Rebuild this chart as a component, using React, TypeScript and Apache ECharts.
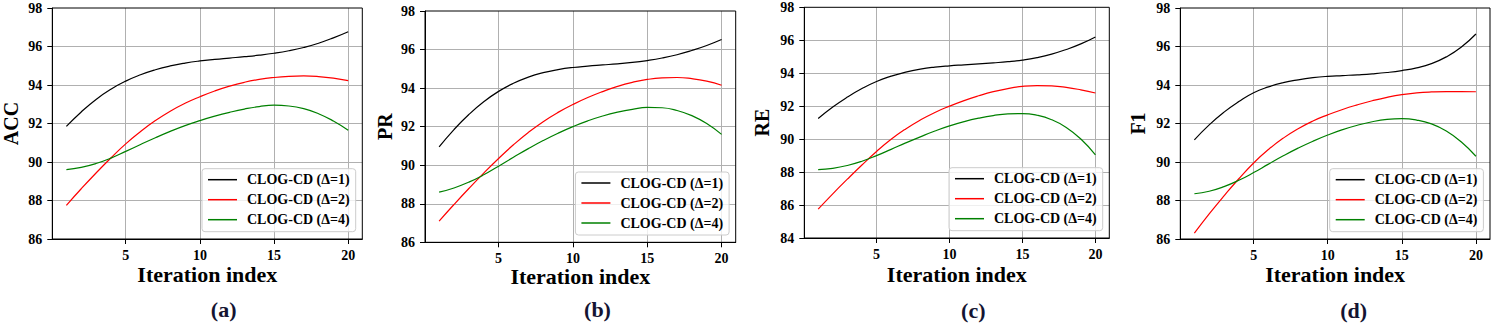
import React, { useEffect, useRef } from "react";
import * as echarts from "echarts";

const iterations = [1, 2, 3, 4, 5, 6, 7, 8, 9, 10, 11, 12, 13, 14, 15, 16, 17, 18, 19, 20];
const seriesNames = ["CLOG-CD (Δ=1)", "CLOG-CD (Δ=2)", "CLOG-CD (Δ=4)"];
const seriesColors = ["#000000", "#ff0000", "#008000"];
const metricNames = ["ACC", "PR", "RE", "F1"];
const panelLabels = ["(a)", "(b)", "(c)", "(d)"];
const xTickValues = [5, 10, 15, 20];
const yMins = [86, 86, 84, 86];
const yMax = 98;

const accD1 = [91.85, 92.6, 93.25, 93.78, 94.2, 94.53, 94.79, 94.99, 95.14, 95.25, 95.33, 95.4, 95.47, 95.55, 95.65, 95.78, 95.95, 96.17, 96.45, 96.77];
const accD2 = [87.75, 88.61, 89.43, 90.21, 90.94, 91.58, 92.15, 92.64, 93.05, 93.39, 93.69, 93.94, 94.14, 94.29, 94.39, 94.45, 94.47, 94.44, 94.36, 94.23];
const accD4 = [89.6, 89.72, 89.92, 90.2, 90.55, 90.91, 91.26, 91.59, 91.89, 92.15, 92.38, 92.58, 92.75, 92.88, 92.95, 92.91, 92.77, 92.51, 92.13, 91.65];

const prD1 = [90.95, 91.85, 92.63, 93.29, 93.83, 94.25, 94.57, 94.8, 94.96, 95.07, 95.14, 95.2, 95.26, 95.33, 95.43, 95.56, 95.73, 95.95, 96.21, 96.52];
const prD2 = [87.1, 87.96, 88.79, 89.59, 90.35, 91.06, 91.7, 92.26, 92.74, 93.15, 93.51, 93.82, 94.09, 94.3, 94.45, 94.53, 94.55, 94.49, 94.36, 94.15];
const prD4 = [88.6, 88.82, 89.12, 89.5, 89.95, 90.41, 90.86, 91.28, 91.66, 92.0, 92.3, 92.55, 92.75, 92.9, 93.0, 92.98, 92.84, 92.57, 92.16, 91.6];

const reD1 = [91.25, 91.95, 92.55, 93.07, 93.5, 93.82, 94.07, 94.25, 94.37, 94.45, 94.51, 94.57, 94.63, 94.7, 94.8, 94.95, 95.16, 95.44, 95.78, 96.2];
const reD2 = [85.75, 86.68, 87.57, 88.43, 89.25, 89.99, 90.62, 91.16, 91.62, 92.0, 92.34, 92.63, 92.88, 93.07, 93.2, 93.25, 93.23, 93.14, 92.99, 92.8];
const reD4 = [88.15, 88.23, 88.4, 88.66, 89.0, 89.38, 89.77, 90.14, 90.49, 90.8, 91.06, 91.27, 91.43, 91.53, 91.55, 91.45, 91.18, 90.71, 90.01, 89.05];

const f1D1 = [91.15, 91.93, 92.59, 93.14, 93.6, 93.9, 94.12, 94.27, 94.38, 94.45, 94.49, 94.53, 94.58, 94.65, 94.75, 94.89, 95.11, 95.46, 95.96, 96.65];
const f1D2 = [86.3, 87.3, 88.24, 89.13, 89.95, 90.65, 91.24, 91.73, 92.13, 92.45, 92.73, 92.97, 93.18, 93.36, 93.5, 93.59, 93.64, 93.66, 93.66, 93.65];
const f1D4 = [88.35, 88.48, 88.72, 89.05, 89.45, 89.89, 90.32, 90.72, 91.08, 91.4, 91.68, 91.91, 92.09, 92.21, 92.25, 92.18, 91.98, 91.61, 91.05, 90.3];

const panelData = [
  [accD1, accD2, accD4],
  [prD1, prD2, prD4],
  [reD1, reD2, reD4],
  [f1D1, f1D2, f1D4],
];

const W = 1497;
const H = 327;
const FONT = '"Liberation Serif", "Times New Roman", serif';

// plot-area rectangles (pixels)
const boxes = [
  { l: 52.3, t: 8, r: 362.3, b: 239 },
  { l: 425, t: 11, r: 735.7, b: 242.3 },
  { l: 804.3, t: 7.3, r: 1109.3, b: 238 },
  { l: 1180.3, t: 8, r: 1490, b: 239 },
];
const yTitlePos = [10.5, 384.5, 762, 1138];
const xTitleY = [274.2, 276.2, 274, 274.7];
const labelPos = [
  { x: 223.7, y: 309.5 },
  { x: 597.5, y: 309.5 },
  { x: 973.3, y: 310.3 },
  { x: 1353.7, y: 310.3 },
];

export default function App() {
  const ref = useRef<HTMLDivElement>(null);
  useEffect(() => {
    if (!ref.current) return;
    const chart = echarts.init(ref.current, undefined, { renderer: "svg" });

    const grid: any[] = [];
    const xAxis: any[] = [];
    const yAxis: any[] = [];
    const series: any[] = [];
    const legend: any[] = [];
    const graphic: any[] = [];

    boxes.forEach((bx, i) => {
      grid.push({
        left: bx.l,
        top: bx.t,
        width: bx.r - bx.l,
        height: bx.b - bx.t,
        show: false,
      });
      xAxis.push({
        type: "value",
        gridIndex: i,
        min: 0.05,
        max: 20.95,
        axisLine: { show: true, lineStyle: { color: "#000", width: 1 } },
        axisTick: {
          show: true,
          inside: false,
          length: 5,
          customValues: xTickValues,
          lineStyle: { color: "#000", width: 1 },
        },
        axisLabel: {
          customValues: xTickValues,
          margin: 9,
          color: "#000",
          fontFamily: FONT,
          fontWeight: "bold",
          fontSize: 14,
        },
        splitLine: { show: true, lineStyle: { color: "#b0b0b0", width: 1 } },
      });
      yAxis.push({
        type: "value",
        gridIndex: i,
        min: yMins[i],
        max: yMax,
        interval: 2,
        axisLine: { show: true, lineStyle: { color: "#000", width: 1 } },
        axisTick: { show: true, inside: false, length: 5, lineStyle: { color: "#000", width: 1 } },
        axisLabel: {
          margin: 10,
          color: "#000",
          fontFamily: FONT,
          fontWeight: "bold",
          fontSize: 14,
          showMinLabel: true,
          showMaxLabel: true,
        },
        splitLine: {
          show: true,
          showMinLine: false,
          showMaxLine: false,
          lineStyle: { color: "#b0b0b0", width: 1 },
        },
      });
      panelData[i].forEach((vals, k) => {
        series.push({
          type: "line",
          name: seriesNames[k],
          xAxisIndex: i,
          yAxisIndex: i,
          data: iterations.map((x, j) => [x, vals[j]]),
          smooth: true,
          symbol: "none",
          lineStyle: { color: seriesColors[k], width: 1.2 },
          itemStyle: { color: seriesColors[k] },
          z: 3,
        });
      });
      legend.push({
        data: seriesNames,
        orient: "vertical",
        right: W - (bx.r - 6.6),
        bottom: H - (bx.b - 7.3),
        icon: "rect",
        itemWidth: 29,
        itemHeight: 1.5,
        itemGap: 6,
        padding: [4, 6, 5, 6],
        backgroundColor: "rgba(255,255,255,0.8)",
        borderColor: "#cccccc",
        borderWidth: 1,
        borderRadius: 3,
        selectedMode: false,
        textStyle: {
          fontFamily: FONT,
          fontWeight: "bold",
          fontSize: 14,
          color: "#000",
          padding: [0, 0, 0, 5],
        },
        z: 5,
      });
      graphic.push({
        type: "rect",
        shape: { x: bx.l, y: bx.t, width: bx.r - bx.l, height: bx.b - bx.t },
        style: { fill: "none", stroke: "#000", lineWidth: 1 },
        z: 100,
        silent: true,
      });
      graphic.push({
        type: "text",
        x: yTitlePos[i],
        y: (bx.t + bx.b) / 2,
        rotation: Math.PI / 2,
        style: {
          text: metricNames[i],
          fontFamily: FONT,
          fontWeight: "bold",
          fontSize: 20,
          fill: "#000",
          align: "center",
          verticalAlign: "middle",
        },
      });
      graphic.push({
        type: "text",
        x: (bx.l + bx.r) / 2,
        y: xTitleY[i],
        style: {
          text: "Iteration index",
          fontFamily: FONT,
          fontWeight: "bold",
          fontSize: 22,
          fill: "#000",
          align: "center",
          verticalAlign: "middle",
        },
      });
      graphic.push({
        type: "text",
        x: labelPos[i].x,
        y: labelPos[i].y,
        style: {
          text: panelLabels[i],
          fontFamily: FONT,
          fontWeight: "bold",
          fontSize: 22,
          fill: "#141432",
          align: "center",
          verticalAlign: "middle",
        },
      });
    });

    chart.setOption({
      animation: false,
      backgroundColor: "#ffffff",
      grid,
      xAxis,
      yAxis,
      series,
      legend,
      graphic,
    });
    return () => chart.dispose();
  }, []);
  return (
    <div
      ref={ref}
      style={{ position: "fixed", left: 0, top: 0, width: W, height: H, background: "#fff" }}
    />
  );
}
